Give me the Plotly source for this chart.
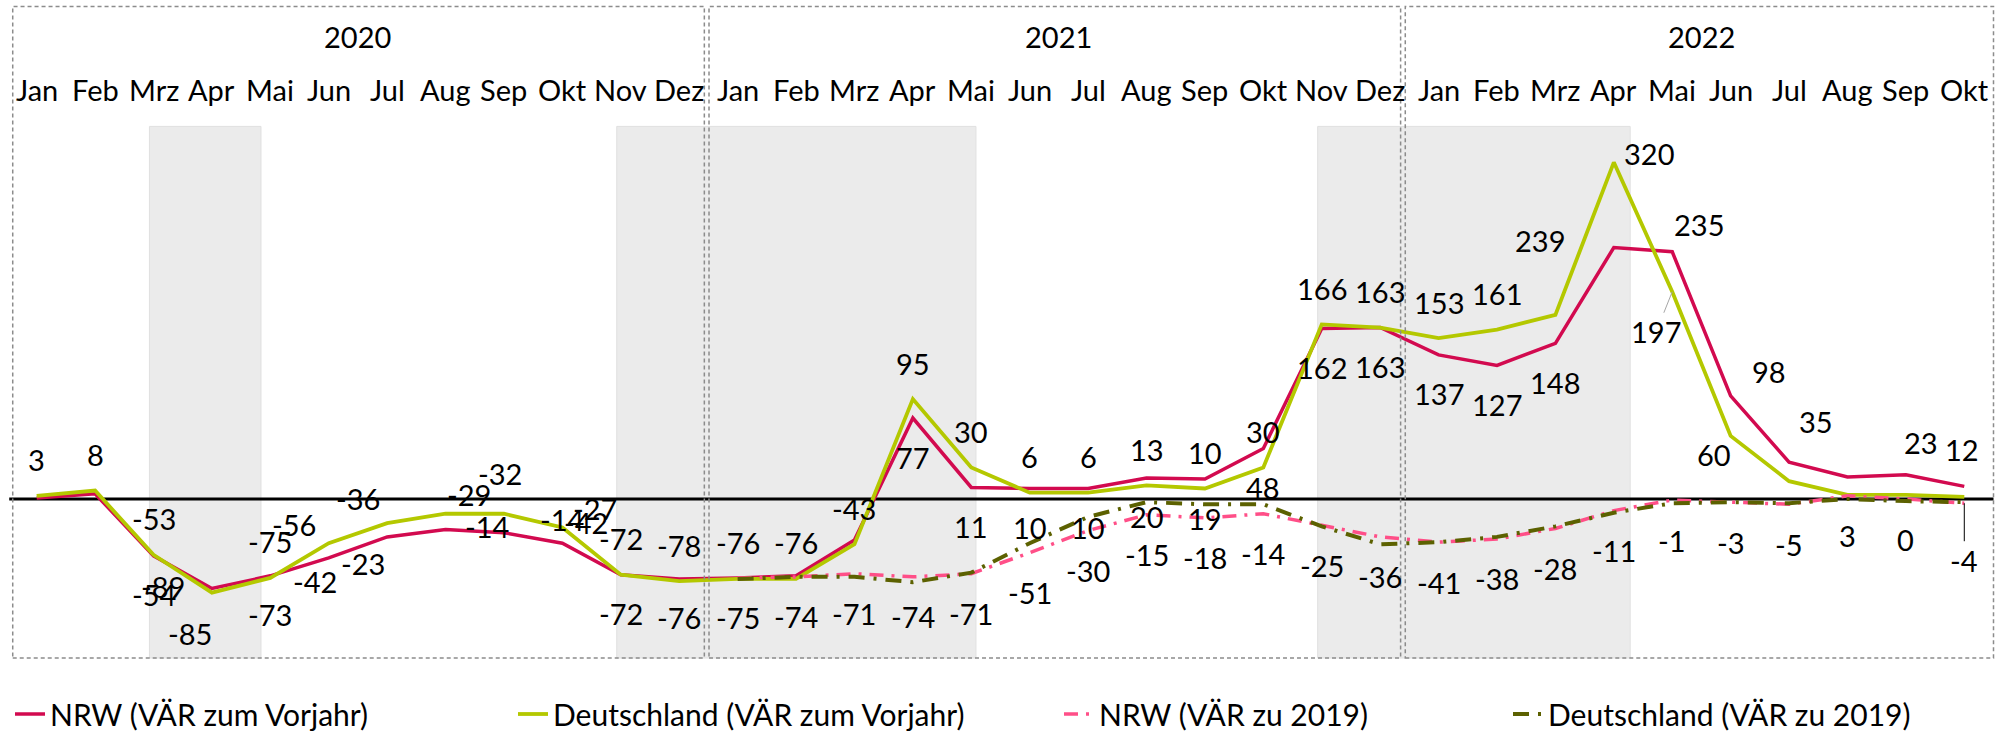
import plotly.graph_objects as go

# ---------------- data ----------------
month_names = ["Jan", "Feb", "Mrz", "Apr", "Mai", "Jun", "Jul", "Aug", "Sep", "Okt", "Nov", "Dez"]
years = ["2020", "2021", "2022"]
year_month_counts = [12, 12, 10]

# Veränderungsrate zum Vorjahr (%)
nrw_vj = [1, 5, -54, -85, -73, -56, -36, -29, -32, -42, -72, -76,
          -75, -73, -39, 77, 11, 10, 10, 20, 19, 48, 162, 163,
          137, 127, 148, 239, 235, 98, 35, 21, 23, 12]
de_vj = [3, 8, -53, -89, -75, -42, -23, -14, -14, -27, -72, -78,
         -76, -76, -43, 95, 30, 6, 6, 13, 10, 30, 166, 163,
         153, 161, 175, 320, 197, 60, 17, 4, 4, 2]
# Veränderungsrate zu 2019 (%)
nrw_19 = [None] * 12 + [-75, -74, -71, -74, -71, -51, -30, -15, -18, -14, -25, -36,
                        -41, -38, -28, -11, -1, -3, -5, 3, 0, -4]
de_19 = [None] * 12 + [-76, -74, -74, -79, -70, -42, -17, -3, -5, -5, -26, -43,
                       -41, -36, -26, -13, -4, -3, -4, 0, -2, -3]

# shaded periods (start, end) in month-index units
shade_periods = [(1.93, 3.84), (9.93, 16.08), (21.93, 27.28)]
# year frames (start, end) in month-index units
year_frames = [(-0.41, 11.43), (11.51, 23.35), (23.43, 33.5)]

# which data labels are hidden
hide_nrw_vj = {0, 1, 12, 13, 14, 31}
hide_de_vj = {26, 30, 31, 32, 33}

# ---------------- styles ----------------
W, H = 1997, 731
FONT = "Lato, 'Open Sans', sans-serif"
FS = 29
LFS = 30
RED = "#d20a4f"
GREEN = "#b4c800"
PINK = "#ff4f88"
OLIVE = "#5c6100"

labels = []
for y, n in zip(years, year_month_counts):
    labels += month_names[:n]
idx = list(range(len(labels)))

fig = go.Figure()
fig.add_trace(go.Scatter(x=idx, y=nrw_vj, mode="lines", name="NRW (VÄR zum Vorjahr)",
                         line=dict(color=RED, width=3.5), legend="legend"))
fig.add_trace(go.Scatter(x=idx, y=de_vj, mode="lines", name="Deutschland (VÄR zum Vorjahr)",
                         line=dict(color=GREEN, width=3.8), legend="legend2"))
fig.add_trace(go.Scatter(x=idx, y=nrw_19, mode="lines", name="NRW (VÄR zu 2019)",
                         line=dict(color=PINK, width=3.5, dash="14px,8px,3px,8px"), legend="legend3"))
fig.add_trace(go.Scatter(x=idx, y=de_19, mode="lines", name="Deutschland (VÄR zu 2019)",
                         line=dict(color=OLIVE, width=4, dash="16px,9px,3px,9px"), legend="legend4"))

# ---------------- data labels ----------------
# offsets (dx right, dy down) in px
off_nrw_vj = {3: (-22, 45), 5: (-35, -33), 6: (-29, -38), 7: (23, -35), 8: (-4, -59),
              9: (24, -21), 27: (-74, -7), 28: (27, -27), 29: (38, -24), 30: (27, -41),
              32: (15, -32), 33: (-2, -37)}
off_de_vj = {3: (-49, -6), 5: (-14, 38), 6: (-24, 40), 7: (41, 13), 8: (58, 6),
             9: (33, -19), 27: (35, -9), 28: (-16, 40), 29: (-17, 19)}
off_nrw_19 = {33: (0, 57)}

ann = []


def add_labels(vals, hidden, default, offsets, leaders=None):
    leaders = leaders or {}
    for i, v in enumerate(vals):
        if v is None or i in hidden:
            continue
        dx, dy = offsets.get(i, default)
        if i in leaders:
            ann.append(dict(x=i, y=v, xref="x", yref="y", text=str(v), showarrow=True,
                            arrowhead=0, arrowwidth=1, arrowcolor=leaders[i], ax=dx, ay=dy,
                            standoff=0, font=dict(size=FS, color="#000", family=FONT)))
        else:
            ann.append(dict(x=i, y=v, xref="x", yref="y", text=str(v), showarrow=False,
                            xanchor="center", yanchor="middle",
                            xshift=dx, yshift=-dy, font=dict(size=FS, color="#000", family=FONT)))


add_labels(nrw_vj, hide_nrw_vj, (0, 39), off_nrw_vj)
add_labels(de_vj, hide_de_vj, (0, -36), off_de_vj, leaders={28: "#a6a6a6"})
add_labels(nrw_19, set(), (0, 40), off_nrw_19, leaders={33: "#000000"})

# month and year labels
for i, m in zip(idx, labels):
    ann.append(dict(x=i, y=1 - 90 / H, xref="x", yref="paper", text=m, showarrow=False,
                    xanchor="center", yanchor="middle",
                    font=dict(size=FS, color="#000", family=FONT)))
start = 0
shapes = []
for y, n, (f0, f1) in zip(years, year_month_counts, year_frames):
    ann.append(dict(x=start + (n - 1) / 2, y=1 - 37 / H, xref="x", yref="paper", text=y,
                    xanchor="center", yanchor="middle",
                    showarrow=False, font=dict(size=FS, color="#000", family=FONT)))
    shapes.append(dict(type="rect", xref="x", yref="paper", x0=f0, x1=f1,
                       y0=1 - 658 / H, y1=1 - 6.4 / H,
                       line=dict(color="#8c8c8c", width=1.5, dash="4px,3px"),
                       fillcolor="rgba(0,0,0,0)", layer="above"))
    start += n

bands = [dict(type="rect", xref="x", yref="paper", x0=a, x1=b, y0=1 - 658 / H,
              y1=1 - 126.4 / H, fillcolor="#ebebeb", line=dict(color="#e0e0e0", width=1),
              layer="below") for a, b in shade_periods]

# zero (axis) line spanning the year boxes
zero_line = [dict(type="line", xref="x", yref="y", x0=year_frames[0][0] - 0.06,
                  x1=year_frames[-1][1], y0=0, y1=0,
                  line=dict(color="#000", width=3), layer="below")]

legend_common = dict(orientation="h", yanchor="middle", y=1 - 714 / H, xanchor="left",
                     font=dict(size=LFS, color="#000", family=FONT), bgcolor="rgba(0,0,0,0)",
                     itemwidth=30)

fig.update_layout(
    width=W, height=H,
    margin=dict(l=0, r=0, t=0, b=0, autoexpand=False),
    paper_bgcolor="white", plot_bgcolor="white",
    font=dict(family=FONT, color="#000"),
    xaxis=dict(range=[-0.628, 33.56], visible=False, showgrid=False, zeroline=False),
    yaxis=dict(range=[-220.5, 474.3], showgrid=False, showticklabels=False, ticks="",
               zeroline=False),
    shapes=bands + zero_line + shapes,
    annotations=ann,
    showlegend=True,
    hovermode=False,
    legend=dict(legend_common, x=10 / W),
    legend2=dict(legend_common, x=513 / W),
    legend3=dict(legend_common, x=1059 / W),
    legend4=dict(legend_common, x=1508 / W),
)

fig.write_html("out.html", config={"displayModeBar": False},
               post_script="document.body.style.margin='0';document.body.style.overflow='hidden';")
